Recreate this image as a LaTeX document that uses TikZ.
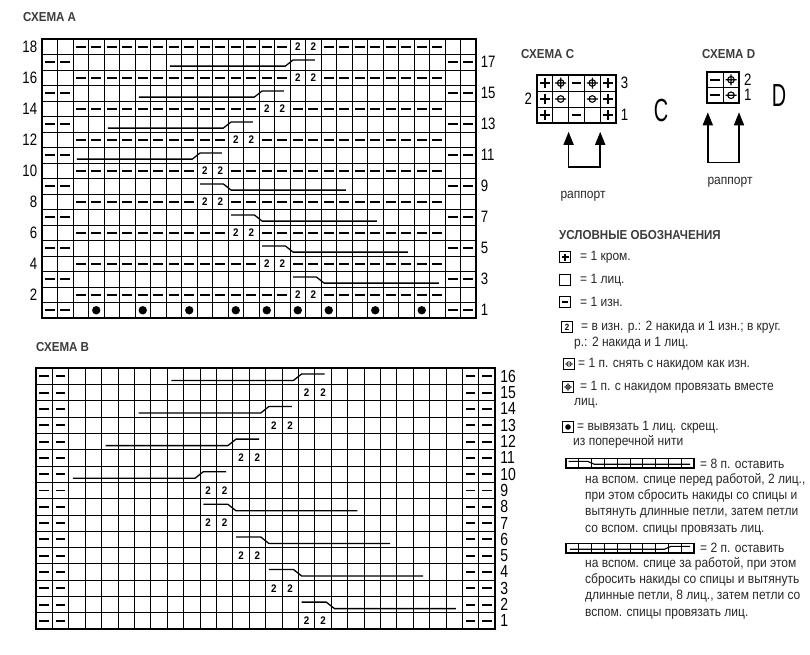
\documentclass[tikz,border=0pt]{standalone}
\usepackage{fontspec}
\setmainfont{Liberation Sans}[FakeStretch=0.89]
\newfontfamily\numfont{Liberation Sans}[FakeStretch=0.8]
\newfontfamily\bigfont{Liberation Sans}[FakeStretch=0.62]
\usetikzlibrary{arrows.meta,positioning}
\definecolor{inkgray}{RGB}{40,40,40}
\definecolor{headgray}{RGB}{60,60,60}

\tikzset{
  symline/.style={line width=1.1pt},
  purlmark/.pic={\draw[line width=1.9pt] (-4.8pt,0pt) -- (4.8pt,0pt);},
  edgeplus/.pic={\draw[symline, line width=1.6pt] (-5pt,0pt) -- (5pt,0pt) (0pt,-5pt) -- (0pt,5pt);},
  slipyo/.pic={\draw[symline] (0pt,0pt) circle (3.3pt) (-5.5pt,0pt) -- (5.5pt,0pt);},
  knittog/.pic={\draw[symline] (0pt,0pt) circle (3.3pt) (-5.5pt,0pt) -- (5.5pt,0pt) (0pt,-5.5pt) -- (0pt,5.5pt);}
}

\begin{document}
\begin{tikzpicture}[
    x=1pt, y=-1pt,
    heading/.style={font=\bfseries\fontsize{13}{14}\selectfont, text=headgray, inner sep=0pt, anchor=west},
    gridline/.style={line width=0.8pt},
    chartframe/.style={line width=2.4pt},
    cable/.style={line width=1.3pt, line join=round},
    twotwo/.style={font=\bfseries\fontsize{11}{11}\selectfont, inner sep=0pt},
    numA/.style={font=\numfont\fontsize{16.5}{16.5}\selectfont, inner sep=0pt},
    numB/.style={font=\numfont\fontsize{17.5}{17.5}\selectfont, inner sep=0pt, anchor=west},
    legtext/.style={font=\fontsize{13.5}{16.3}\selectfont, text=inkgray, inner sep=0pt, anchor=west, align=left},
    legbox/.style={draw, line width=1.1pt, minimum size=11pt, inner sep=0pt},
    rapport/.style={line width=1.6pt, arrows={Triangle[length=13pt,width=10pt]-Triangle[length=13pt,width=10pt]}},
    bigletter/.style={font=\bigfont\fontsize{32}{32}\selectfont, inner sep=0pt}
]
\path[fill=white, use as bounding box] (0,0) rectangle (810,654);

% Chart A
\node[heading] (titleA) at (23,17) {СХЕМА A};
\begin{scope}[xshift=42pt, yshift=-318pt, x=15.5pt, y=15.5pt]
  \foreach \c in {1,...,27} \draw[gridline] (\c,0) -- (\c,18);
  \foreach \r in {1,...,17} \draw[gridline] (0,\r) -- (28,\r);
  \draw[chartframe] (0,0) rectangle (28,18);
  % wrong side rows
  \foreach \r/\t [evaluate=\t as \purlL using int(\t-1), evaluate=\t as \purlR using int(\t+2), evaluate=\t as \twoR using int(\t+1)] in {2/17,4/15,6/13,8/11,10/11,12/13,14/15,16/17,18/17} {
    \foreach \c in {3,...,\purlL} \pic at (\c-0.5,\r-0.5) {purlmark};
    \foreach \c in {\purlR,...,26} \pic at (\c-0.5,\r-0.5) {purlmark};
    \node[twotwo] (yoA\r-a) at (\t-0.5,\r-0.5) {2};
    \node[twotwo] (yoA\r-b) at (\twoR-0.5,\r-0.5) {2};
    \node[numA, anchor=east] (numA\r) at (-0.3,\r-0.5) {\r};
  }
  % right side rows
  \foreach \r in {1,3,...,17} {
    \foreach \c in {1,2,27,28} \pic at (\c-0.5,\r-0.5) {purlmark};
    \node[numA, anchor=west] (numA\r) at (28.3,\r-0.5) {\r};
  }
  \foreach \c in {4,7,10,13,15,17,19,22,25} \fill (\c-0.5,0.5) circle (4.2pt);
  % cables
  \foreach \r/\s in {17/9,15/7,13/5,11/3}
    \draw[cable] (\s-0.75,\r-0.75) -- (\s+6.7,\r-0.75) -- (\s+7.2,\r-0.35) -- (\s+8.6,\r-0.35);
  \foreach \r/\s in {9/11,7/13,5/15,3/17}
    \draw[cable] (\s-0.8,\r-0.35) -- (\s+0.7,\r-0.35) -- (\s+1.2,\r-0.75) -- (\s+8.6,\r-0.75);
\end{scope}

% Chart B
\node[heading] (titleB) at (36,347) {СХЕМА B};
\begin{scope}[xshift=36pt, yshift=-629pt, x=16.4pt, y=16.3pt]
  \foreach \c in {1,...,27} \draw[gridline] (\c,0) -- (\c,16);
  \foreach \r in {1,...,15} \draw[gridline] (0,\r) -- (28,\r);
  \draw[chartframe] (0,0) rectangle (28,16);
  \foreach \r in {1,...,16} {
    \foreach \c in {1,2,27,28} \pic at (\c-0.5,\r-0.5) {purlmark};
    \node[numB] (numB\r) at (28.3,\r-0.5) {\r};
  }
  \foreach \r/\t [evaluate=\t as \twoR using int(\t+1)] in {1/17,3/15,5/13,7/11,9/11,11/13,13/15,15/17} {
    \node[twotwo] (yoB\r-a) at (\t-0.5,\r-0.5) {2};
    \node[twotwo] (yoB\r-b) at (\twoR-0.5,\r-0.5) {2};
  }
  % cables
  \foreach \r/\s in {16/9,14/7,12/5,10/3}
    \draw[cable] (\s-0.75,\r-0.75) -- (\s+6.7,\r-0.75) -- (\s+7.2,\r-0.35) -- (\s+8.6,\r-0.35);
  \foreach \r/\s in {8/11,6/13,4/15,2/17}
    \draw[cable] (\s-0.8,\r-0.35) -- (\s+0.7,\r-0.35) -- (\s+1.2,\r-0.75) -- (\s+8.6,\r-0.75);
\end{scope}

% Chart C
\node[heading] (titleC) at (521,54) {СХЕМА C};
\begin{scope}[xshift=537pt, yshift=-123pt, x=15.8pt, y=16pt]
  \foreach \c in {1,...,4} \draw[gridline] (\c,0) -- (\c,3);
  \foreach \r in {1,2} \draw[gridline] (0,\r) -- (5,\r);
  \draw[line width=2pt] (0,0) rectangle (5,3);
  \foreach \r in {1,2,3} {
    \pic at (0.5,\r-0.5) {edgeplus};
    \pic at (4.5,\r-0.5) {edgeplus};
  }
  \pic at (1.5,2.5) {knittog};
  \pic at (2.5,2.5) {purlmark};
  \pic at (3.5,2.5) {knittog};
  \pic at (1.5,1.5) {slipyo};
  \pic at (3.5,1.5) {slipyo};
  \pic at (2.5,0.5) {purlmark};
  \node[numA, anchor=west] (numC3) at (5.3,2.5) {3};
  \node[numA, anchor=east] (numC2) at (-0.3,1.5) {2};
  \node[numA, anchor=west] (numC1) at (5.3,0.5) {1};
  \coordinate (tipC1) at (2,-0.55);
  \coordinate (tipC2) at (4,-0.55);
  \coordinate (footC1) at (2,-2.75);
  \coordinate (footC2) at (4,-2.75);
\end{scope}
\draw[rapport] (tipC1) -- (footC1) -- (footC2) -- (tipC2);
\node[legtext, anchor=center] (rapC) at (583,196) {раппорт};
\node[bigletter] (bigC) at (661,110) {C};

% Chart D
\node[heading] (titleD) at (702,54) {СХЕМА D};
\begin{scope}[xshift=707pt, yshift=-103pt, x=16pt, y=15.5pt]
  \draw[gridline] (1,0) -- (1,2) (0,1) -- (2,1);
  \draw[line width=2pt] (0,0) rectangle (2,2);
  \pic at (0.5,1.5) {purlmark};
  \pic at (1.5,1.5) {knittog};
  \pic at (0.5,0.5) {purlmark};
  \pic at (1.5,0.5) {slipyo};
  \node[numA, anchor=west] (numD2) at (2.3,1.5) {2};
  \node[numA, anchor=west] (numD1) at (2.3,0.5) {1};
  \coordinate (tipD1) at (0.05,-0.6);
  \coordinate (tipD2) at (2,-0.6);
  \coordinate (footD1) at (0.05,-3.85);
  \coordinate (footD2) at (2,-3.85);
\end{scope}
\draw[rapport] (tipD1) -- (footD1) -- (footD2) -- (tipD2);
\node[legtext, anchor=center] (rapD) at (730,182) {раппорт};
\node[bigletter] (bigD) at (779,95) {D};

% Legend
\node[heading] (legend) at (559,235) {УСЛОВНЫЕ ОБОЗНАЧЕНИЯ};
\begin{scope}[symline/.style={line width=0.7pt}]
\node[legbox] (iconEdge) at (565,257) {};
\pic[scale=0.7] at (iconEdge) {edgeplus};
\node[legtext] (txtEdge) at (580,257) {= 1 кром.};
\node[legbox] (iconKnit) at (565,280) {};
\node[legtext] (txtKnit) at (580,280) {= 1 лиц.};
\node[legbox] (iconPurl) at (565,302) {};
\draw[line width=1.2pt] ([xshift=-3.2pt]iconPurl.center) -- ([xshift=3.2pt]iconPurl.center);
\node[legtext] (txtPurl) at (580,302) {= 1 изн.};
\node[legbox, font=\bfseries\fontsize{9}{9}\selectfont] (iconYo) at (567,327) {2};
\node[legtext] (txtYo) at (581,327) {= в изн. р.: 2 накида и 1 изн.; в круг.};
\node[legtext] (txtYo2) at (574,343) {р.: 2 накида и 1 лиц.};
\node[legbox] (iconSlip) at (569,364) {};
\pic[scale=0.7] at (iconSlip) {slipyo};
\node[legtext] (txtSlip) at (578,364) {= 1 п. снять с накидом как изн.};
\node[legbox] (iconTog) at (568,387) {};
\pic[scale=0.7] at (iconTog) {knittog};
\node[legtext] (txtTog) at (580,387) {= 1 п. с накидом провязать вместе};
\node[legtext] (txtTog2) at (574,403) {лиц.};
\node[legbox] (iconBob) at (568,427) {};
\fill (iconBob) circle (2.8pt);
\node[legtext] (txtBob) at (577,427) {= вывязать 1 лиц. скрещ.};
\node[legtext] (txtBob2) at (573,442) {из поперечной нити};
\end{scope}

% cable in front
\begin{scope}[xshift=566pt, yshift=-468pt, x=12.8pt, y=9.5pt]
  \foreach \c in {1,...,9} \draw[line width=0.8pt] (\c,0) -- (\c,1);
  \draw[line width=1.2pt] (0,0) rectangle (10,1);
  \draw[line width=1.1pt] (0.2,0.7) -- (1.7,0.7) -- (2.2,0.4) -- (9.7,0.4);
\end{scope}
\node[legtext] (txtFront) at (700,464) {= 8 п. оставить};
\node[legtext, anchor=north west] (txtFront2) at (585,473) {на вспом. спице перед работой, 2 лиц.,\\при этом сбросить накиды со спицы и\\вытянуть длинные петли, затем петли\\со вспом. спицы провязать лиц.};

% cable behind
\begin{scope}[xshift=566pt, yshift=-553pt, x=12.8pt, y=9.5pt]
  \foreach \c in {1,...,9} \draw[line width=0.8pt] (\c,0) -- (\c,1);
  \draw[line width=1.2pt] (0,0) rectangle (10,1);
  \draw[line width=1.1pt] (0.3,0.4) -- (7.7,0.4) -- (8.2,0.7) -- (9.7,0.7);
\end{scope}
\node[legtext] (txtBack) at (700,548) {= 2 п. оставить};
\node[legtext, anchor=north west] (txtBack2) at (585,557) {на вспом. спице за работой, при этом\\сбросить накиды со спицы и вытянуть\\длинные петли, 8 лиц., затем петли со\\вспом. спицы провязать лиц.};

\end{tikzpicture}
\end{document}
